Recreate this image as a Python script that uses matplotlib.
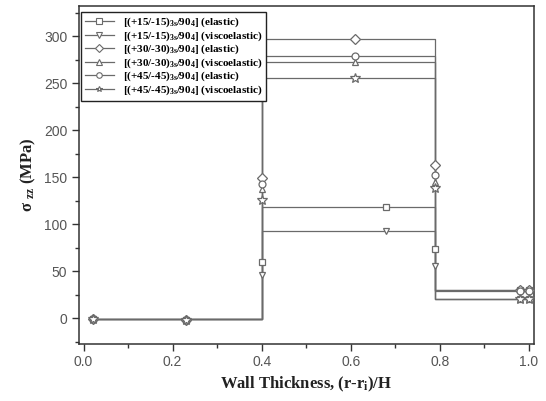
import numpy as np
import matplotlib.pyplot as plt

plt.rcParams['font.family'] = ['Liberation Sans', 'DejaVu Sans']
plt.rcParams['mathtext.fontset'] = 'custom'
plt.rcParams['mathtext.rm'] = 'Liberation Serif:bold'
plt.rcParams['mathtext.bf'] = 'Liberation Serif:bold'
plt.rcParams['mathtext.it'] = 'Liberation Serif:bold'

# layer boundaries / line vertices (normalised wall thickness)
line_x = [0.02, 0.40, 0.40, 0.79, 0.79, 1.0]

labels = [r'[(+15/-15)$_{3s}$/90$_4$] (elastic)',
          r'[(+15/-15)$_{3s}$/90$_4$] (viscoelastic)',
          r'[(+30/-30)$_{3s}$/90$_4$] (elastic)',
          r'[(+30/-30)$_{3s}$/90$_4$] (viscoelastic)',
          r'[(+45/-45)$_{3s}$/90$_4$] (elastic)',
          r'[(+45/-45)$_{3s}$/90$_4$] (viscoelastic)']
markers = ['s', 'v', 'D', '^', 'o', '*']

# stress in each layer (MPa): inner layer, middle layer, outer layer
layer1 = [-1, -1, -1, -1, -1, -1]
layer2 = [118, 93, 297, 272, 279, 255]
layer3 = [30, 21, 30, 20, 29, 20]

# marker values at the layer interfaces and mid layer
jump_04 = [60, 46, 149, 137, 143, 126]
jump_079 = [74, 56, 163, 145, 152, 138]
mid_x = [0.68, 0.68, 0.61, 0.61, 0.61, 0.61]
layer1_pts_x = [0.02, 0.23]
layer3_pts_x = [0.98, 1.0]

fig, ax = plt.subplots(figsize=(5.46, 4.01), dpi=100)
fig.subplots_adjust(left=0.145, right=0.978, top=0.985, bottom=0.143)

col = '#6a6a6a'
for i in range(6):
    ly = [layer1[i], layer1[i], layer2[i], layer2[i], layer3[i], layer3[i]]
    ax.plot(line_x, ly, color=col, lw=0.9, zorder=2)
    mx = layer1_pts_x + [0.40, mid_x[i], 0.79] + layer3_pts_x
    my = [layer1[i], layer1[i] - 1, jump_04[i], layer2[i], jump_079[i], layer3[i], layer3[i]]
    ms = 7 if markers[i] == '*' else 5
    ax.plot(mx, my, ls='none', marker=markers[i], ms=ms, mfc='white',
            mec=col, mew=0.9, zorder=3)
    # legend handle
    ax.plot([], [], color=col, lw=0.9, marker=markers[i], ms=4, mfc='white',
            mec=col, mew=0.8, label=labels[i])

ax.set_xlim(-0.01, 1.012)
ax.set_ylim(-27, 332)
ax.set_xticks(np.arange(0, 1.01, 0.2))
ax.set_xticks(np.arange(0.1, 1.01, 0.2), minor=True)
ax.set_yticks(np.arange(0, 301, 50))
ax.set_yticks(np.arange(-25, 330, 25), minor=True)
ax.xaxis.set_major_formatter(plt.FormatStrFormatter('%.1f'))
ax.tick_params(which='major', length=5, width=1, labelsize=10, colors='#333333')
ax.tick_params(which='minor', length=3, width=1, colors='#333333')
for lab in ax.get_xticklabels() + ax.get_yticklabels():
    lab.set_color('#555555')
for s in ax.spines.values():
    s.set_linewidth(1.1)
    s.set_color('#333333')

ax.set_xlabel(r'Wall Thickness, (r-r$_{\rm i}$)/H', family='Liberation Serif',
              fontweight='bold', fontsize=12, color='#222222')
ax.set_ylabel(r'$\sigma$ $_{zz}$ (MPa)', family='Liberation Serif',
              fontweight='bold', fontsize=12, color='#222222')

leg = ax.legend(loc='upper left', bbox_to_anchor=(0.004, 0.982),
                prop={'family': 'Liberation Serif', 'weight': 'bold', 'size': 8},
                frameon=True, fancybox=False, edgecolor='#222222',
                handlelength=2.6, labelspacing=0.0, borderpad=0.35,
                borderaxespad=0.0, framealpha=1)
leg.get_frame().set_linewidth(1.0)
leg.set_zorder(5)

fig.savefig('out.png', dpi=100)
